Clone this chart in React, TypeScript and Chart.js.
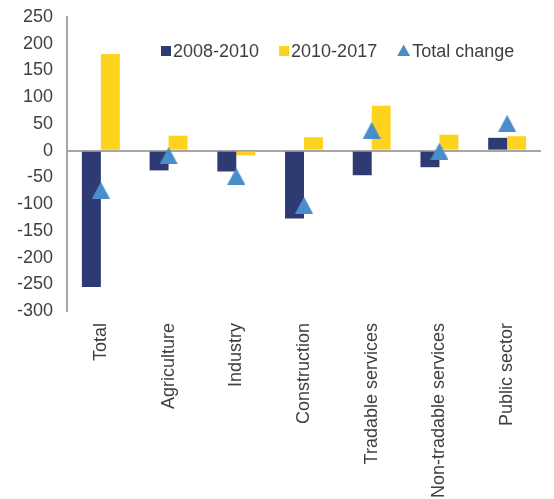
import React, { useEffect, useRef } from "react";
import { Chart, registerables } from "chart.js";

Chart.register(...registerables);

const categories = [
  "Total",
  "Agriculture",
  "Industry",
  "Construction",
  "Tradable services",
  "Non-tradable services",
  "Public sector",
];
const change2008to2010 = [-255, -37, -39, -127, -46, -31, 24];
const change2010to2017 = [181, 28, -9, 25, 84, 30, 27];
const totalChange = [-74, -9, -48, -102, 38, -1, 51];

const yMin = -300;
const yMax = 250;
const yStep = 50;

const NAVY = "#2E3A72";
const YELLOW = "#FDD320";
const BLUE = "#4A8DCB";
const AXIS = "#A6A6A6";
const TEXT = "#404040";
const FONT = "'Liberation Sans', Arial, sans-serif";

function makeTriangle(w: number, h: number, color: string) {
  const c = document.createElement("canvas");
  c.width = w;
  c.height = h;
  const g = c.getContext("2d")!;
  g.fillStyle = color;
  g.beginPath();
  g.moveTo(w / 2, 0);
  g.lineTo(w, h);
  g.lineTo(0, h);
  g.closePath();
  g.fill();
  return c;
}

const legendPlugin = {
  id: "customLegend",
  afterDraw(chart: any) {
    const { ctx, chartArea } = chart;
    const fontSize = 18;
    ctx.save();
    ctx.font = `${fontSize}px ${FONT}`;
    ctx.textBaseline = "middle";
    ctx.textAlign = "left";
    let x = chartArea.left + 94;
    const y = chartArea.top + 34;
    const items = chart.data.datasets;
    const orderIdx = [1, 2, 0];
    orderIdx.forEach((i) => {
      const ds = items[i];
      if (ds.type === "line") {
        ctx.fillStyle = ds.borderColor;
        ctx.beginPath();
        ctx.moveTo(x + 6.5, y - 6.5);
        ctx.lineTo(x + 13, y + 5);
        ctx.lineTo(x, y + 5);
        ctx.closePath();
        ctx.fill();
        x += 15;
      } else {
        ctx.fillStyle = ds.backgroundColor;
        ctx.fillRect(x, y - 5, 10, 10);
        x += 12;
      }
      ctx.fillStyle = TEXT;
      ctx.fillText(ds.label, x, y + 1);
      x += ctx.measureText(ds.label).width + 20;
    });
    ctx.restore();
  },
};

export default function App() {
  const canvasRef = useRef<HTMLCanvasElement | null>(null);

  useEffect(() => {
    if (!canvasRef.current) return;
    const tri = makeTriangle(18, 17, BLUE);
    const chart = new Chart(canvasRef.current, {
      type: "bar",
      data: {
        labels: categories,
        datasets: [
          {
            type: "line",
            label: "Total change",
            data: totalChange,
            showLine: false,
            pointStyle: tri,
            pointRadius: 9,
            pointHoverRadius: 9,
            backgroundColor: BLUE,
            borderColor: BLUE,
            pointBorderWidth: 0,
            order: 0,
          } as any,
          {
            type: "bar",
            label: "2008-2010",
            data: change2008to2010,
            backgroundColor: NAVY,
            barPercentage: 1,
            categoryPercentage: 0.56,
            order: 1,
          },
          {
            type: "bar",
            label: "2010-2017",
            data: change2010to2017,
            backgroundColor: YELLOW,
            barPercentage: 1,
            categoryPercentage: 0.56,
            order: 1,
          },
        ],
      },
      options: {
        responsive: false,
        animation: false,
        layout: { padding: { top: 17, right: 13, bottom: 0, left: 0 } },
        plugins: {
          legend: { display: false },
          tooltip: { enabled: false },
        },
        scales: {
          x: {
            grid: { display: false },
            border: { display: false },
            ticks: {
              minRotation: 90,
              maxRotation: 90,
              autoSkip: false,
              padding: 4,
              color: TEXT,
              font: { family: FONT, size: 18 },
            },
            afterFit(scale: any) {
              scale.height = 188;
            },
          },
          y: {
            min: yMin,
            max: yMax,
            ticks: {
              stepSize: yStep,
              padding: 14,
              color: TEXT,
              font: { family: FONT, size: 18 },
            },
            grid: {
              drawTicks: false,
              lineWidth: 2,
              color: (c: any) =>
                c.tick && c.tick.value === 0 ? AXIS : "rgba(0,0,0,0)",
            },
            border: { display: true, color: AXIS, width: 2 },
            afterFit(scale: any) {
              scale.width = 67;
              scale.paddingTop = 0;
              scale.paddingBottom = 0;
            },
          },
        },
      },
      plugins: [legendPlugin],
    });
    return () => chart.destroy();
  }, []);

  return (
    <div style={{ position: "absolute", left: 0, top: 0, width: 554, height: 499 }}>
      <canvas
        ref={canvasRef}
        width={554}
        height={499}
        style={{ display: "block", width: 554, height: 499 }}
      />
    </div>
  );
}
